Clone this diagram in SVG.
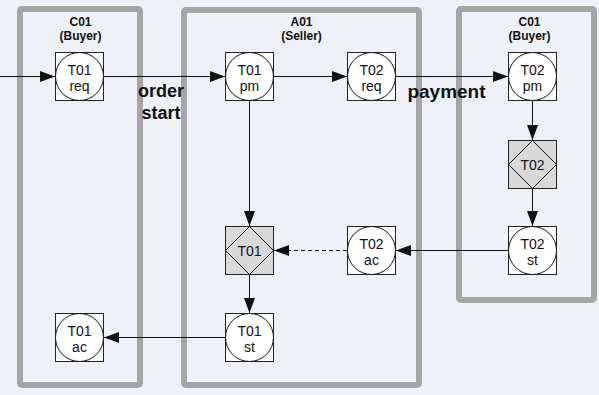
<svg xmlns="http://www.w3.org/2000/svg" width="599" height="395" viewBox="0 0 599 395">
  <defs>
    <marker id="arrow" markerUnits="userSpaceOnUse" markerWidth="16" markerHeight="12" refX="15" refY="5.5" orient="auto">
      <path d="M0,0 L15,5.5 L0,11 z" fill="#111"/>
    </marker>
    <style>
      .role { fill: none; stroke: #a6a6a6; stroke-width: 6; }
      .title { font-family: "Liberation Sans", Arial, sans-serif; font-weight: bold; font-size: 12px; text-anchor: middle; fill: #111; }
      .frame { fill: #fff; stroke: #222; stroke-width: 1; }
      .step { fill: #fff; stroke: #111; stroke-width: 1; }
      .fact { fill: #d9d9d9; stroke: #222; stroke-width: 1; }
      .diamond { fill: none; stroke: #111; stroke-width: 1; }
      .lbl { font-family: "Liberation Sans", Arial, sans-serif; font-size: 14px; text-anchor: middle; fill: #111; }
      .flow { font-family: "Liberation Sans", Arial, sans-serif; font-weight: bold; font-size: 18px; text-anchor: middle; fill: #111; }
      .link { fill: none; stroke: #111; stroke-width: 1; marker-end: url(#arrow); }
      .dashed { stroke-dasharray: 4 3; }
    </style>
  </defs>

  <rect width="599" height="395" fill="#eef1f7"/>

  <!-- actor role boundaries -->
  <g id="role-c01-left">
    <rect class="role" x="20" y="9" width="120" height="376" rx="2"/>
    <text class="title" x="80.5" y="26">C01</text>
    <text class="title" x="80.5" y="40">(Buyer)</text>
  </g>
  <g id="role-a01">
    <rect class="role" x="184" y="10" width="235" height="375" rx="2"/>
    <text class="title" x="301.5" y="26">A01</text>
    <text class="title" x="301.5" y="40">(Seller)</text>
  </g>
  <g id="role-c01-right">
    <rect class="role" x="459" y="9" width="135" height="291" rx="2"/>
    <text class="title" x="529.5" y="26">C01</text>
    <text class="title" x="529.5" y="40">(Buyer)</text>
  </g>

  <!-- connectors -->
  <g id="connectors">
    <path class="link" d="M0,76.5 H55"/>
    <path class="link" d="M104,76.5 H225"/>
    <path class="link" d="M274,76.5 H347"/>
    <path class="link" d="M396,76.5 H508"/>
    <path class="link" d="M532.5,101 V140"/>
    <path class="link" d="M532.5,189 V226"/>
    <path class="link" d="M508,250.5 H396"/>
    <path class="link dashed" d="M347,250.5 H274"/>
    <path class="link" d="M249.5,101 V226"/>
    <path class="link" d="M249.5,275 V313"/>
    <path class="link" d="M225,337.5 H104"/>
  </g>

  <!-- transaction steps -->
  <g id="t01-req">
    <rect class="frame" x="55.5" y="52.5" width="48" height="48"/>
    <circle class="step" cx="79.5" cy="76.5" r="24"/>
    <text class="lbl" x="79.5" y="75">T01</text>
    <text class="lbl" x="79.5" y="91">req</text>
  </g>
  <g id="t01-pm">
    <rect class="frame" x="225.5" y="52.5" width="48" height="48"/>
    <circle class="step" cx="249.5" cy="76.5" r="24"/>
    <text class="lbl" x="249.5" y="75">T01</text>
    <text class="lbl" x="249.5" y="91">pm</text>
  </g>
  <g id="t02-req">
    <rect class="frame" x="347.5" y="52.5" width="48" height="48"/>
    <circle class="step" cx="371.5" cy="76.5" r="24"/>
    <text class="lbl" x="371.5" y="75">T02</text>
    <text class="lbl" x="371.5" y="91">req</text>
  </g>
  <g id="t02-pm">
    <rect class="frame" x="508.5" y="52.5" width="48" height="48"/>
    <circle class="step" cx="532.5" cy="76.5" r="24"/>
    <text class="lbl" x="532.5" y="75">T02</text>
    <text class="lbl" x="532.5" y="91">pm</text>
  </g>
  <g id="t02-exec">
    <rect class="fact" x="508.5" y="140.5" width="48" height="48"/>
    <path class="diamond" d="M532.5,140.5 L556.5,164.5 L532.5,188.5 L508.5,164.5 z"/>
    <text class="lbl" x="532.5" y="169.5">T02</text>
  </g>
  <g id="t02-st">
    <rect class="frame" x="508.5" y="226.5" width="48" height="48"/>
    <circle class="step" cx="532.5" cy="250.5" r="24"/>
    <text class="lbl" x="532.5" y="249">T02</text>
    <text class="lbl" x="532.5" y="265">st</text>
  </g>
  <g id="t02-ac">
    <rect class="frame" x="347.5" y="226.5" width="48" height="48"/>
    <circle class="step" cx="371.5" cy="250.5" r="24"/>
    <text class="lbl" x="371.5" y="249">T02</text>
    <text class="lbl" x="371.5" y="265">ac</text>
  </g>
  <g id="t01-exec">
    <rect class="fact" x="225.5" y="226.5" width="48" height="48"/>
    <path class="diamond" d="M249.5,226.5 L273.5,250.5 L249.5,274.5 L225.5,250.5 z"/>
    <text class="lbl" x="249.5" y="255.5">T01</text>
  </g>
  <g id="t01-st">
    <rect class="frame" x="225.5" y="313.5" width="48" height="48"/>
    <circle class="step" cx="249.5" cy="337.5" r="24"/>
    <text class="lbl" x="249.5" y="336">T01</text>
    <text class="lbl" x="249.5" y="352">st</text>
  </g>
  <g id="t01-ac">
    <rect class="frame" x="55.5" y="313.5" width="48" height="48"/>
    <circle class="step" cx="79.5" cy="337.5" r="24"/>
    <text class="lbl" x="79.5" y="336">T01</text>
    <text class="lbl" x="79.5" y="352">ac</text>
  </g>

  <!-- flow labels -->
  <g id="label-order-start">
    <text class="flow" x="161" y="97">order</text>
    <text class="flow" x="161" y="119">start</text>
  </g>
  <g id="label-payment">
    <text class="flow" x="446.5" y="98" style="font-size:19px">payment</text>
  </g>
</svg>
